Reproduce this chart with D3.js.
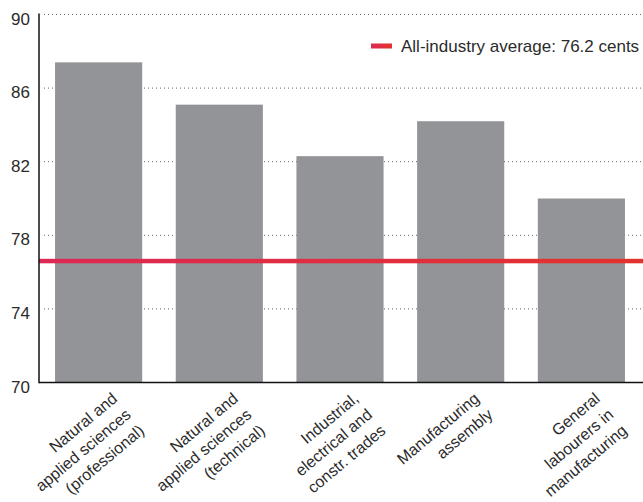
<!DOCTYPE html>
<html>
<head>
<meta charset="utf-8">
<script src="https://cdn.jsdelivr.net/npm/d3@7"></script>
<style>
  body { margin: 0; background: #fff; }
  svg { display: block; font-family: "Liberation Sans", Arial, sans-serif; }
</style>
</head>
<body>
<svg></svg>
<script>
var width = 643
var height = 502

// data
var categories = [
  ["Natural and", "applied sciences", "(professional)"],
  ["Natural and", "applied sciences", "(technical)"],
  ["Industrial,", "electrical and", "constr. trades"],
  ["Manufacturing", "assembly"],
  ["General", "labourers in", "manufacturing"]
]
var values = [87.4, 85.1, 82.3, 84.2, 80.0]
var yTicks = [70, 74, 78, 82, 86, 90]
var averageValue = 76.6
var averageLabel = "All-industry average: 76.2 cents"

var barColor = "#939498"
var textColor = "#2b2b2b"

var svg = d3.select("svg")
  .attr("width", width)
  .attr("height", height)

var x = d3.scaleBand()
  .domain(d3.range(values.length))
  .range([39, 641])
  .paddingInner(0.278)
  .paddingOuter(0.133)

var y = d3.scaleLinear()
  .domain([70, 90])
  .range([382.5, 14.5])

var defs = svg.append("defs")
var grad = defs.append("linearGradient")
  .attr("id", "avgGrad")
  .attr("x1", "0%").attr("x2", "100%")
  .attr("y1", "0%").attr("y2", "0%")
grad.append("stop").attr("offset", "0%").attr("stop-color", "#dc2a55")
grad.append("stop").attr("offset", "100%").attr("stop-color", "#e2332c")

// dotted gridlines
svg.append("g")
  .selectAll("line")
  .data(yTicks.filter(d => d > 70))
  .join("line")
  .attr("x1", 44)
  .attr("x2", width)
  .attr("y1", d => y(d))
  .attr("y2", d => y(d))
  .attr("stroke", "#666")
  .attr("stroke-width", 1)
  .attr("stroke-dasharray", "1,3")

// bars
svg.append("g")
  .selectAll("rect")
  .data(values)
  .join("rect")
  .attr("x", (d, i) => x(i))
  .attr("width", x.bandwidth())
  .attr("y", d => y(d))
  .attr("height", d => y(70) - y(d))
  .attr("fill", barColor)

// average line (rect so the gradient has a real box)
svg.append("rect")
  .attr("x", 39)
  .attr("width", width - 39)
  .attr("y", y(averageValue) - 2.25)
  .attr("height", 4.5)
  .attr("fill", "url(#avgGrad)")

// axes lines
svg.append("line")
  .attr("x1", 39).attr("x2", 39)
  .attr("y1", y(90) - 1).attr("y2", y(70) + 0.75)
  .attr("stroke", "#111").attr("stroke-width", 1.5)
svg.append("line")
  .attr("x1", 39).attr("x2", width)
  .attr("y1", y(70)).attr("y2", y(70))
  .attr("stroke", "#111").attr("stroke-width", 1.5)

// y tick labels
svg.append("g")
  .selectAll("text")
  .data(yTicks)
  .join("text")
  .attr("x", 30)
  .attr("y", d => y(d) + 10)
  .attr("text-anchor", "end")
  .attr("font-size", 17)
  .attr("fill", textColor)
  .text(d => d)

// category labels, rotated, right aligned
var lineH = 21
svg.append("g")
  .selectAll("g")
  .data(categories)
  .join("g")
  .attr("transform", (d, i) => "translate(" + (x(i) + x.bandwidth() / 2 + 12) + ",391) rotate(-40)")
  .selectAll("text")
  .data(d => d)
  .join("text")
  .attr("font-size", 16)
  .attr("fill", textColor)
  .attr("text-anchor", "end")
  .attr("x", 0)
  .attr("y", (d, j) => 12 + j * lineH)
  .text(d => d)

// legend
svg.append("rect")
  .attr("x", 371).attr("width", 21)
  .attr("y", 43.5).attr("height", 5)
  .attr("fill", "url(#avgGrad)")
svg.append("text")
  .attr("x", 401)
  .attr("y", 52)
  .attr("font-size", 17)
  .attr("fill", textColor)
  .text(averageLabel)
</script>
</body>
</html>
